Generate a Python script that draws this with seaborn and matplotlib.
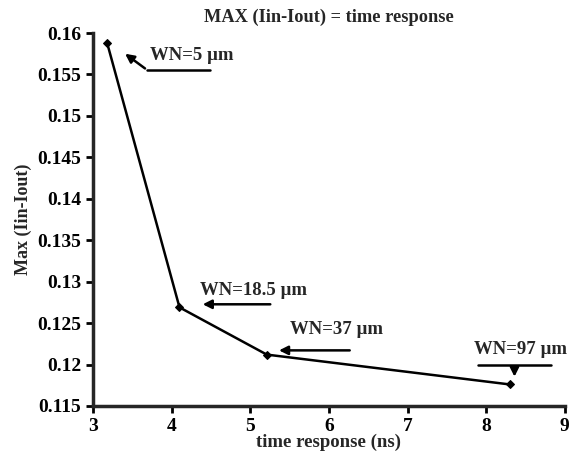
import pandas as pd
import seaborn as sns
import matplotlib.pyplot as plt

# data
time_ns = [3.18, 4.10, 5.21, 8.30]
max_iin_iout = [0.1588, 0.1269, 0.1212, 0.1176]
labels = ["WN=5 µm", "WN=18.5 µm", "WN=37 µm", "WN=97 µm"]

df = pd.DataFrame({"time": time_ns, "max": max_iin_iout})

sns.set_theme(style="ticks")
plt.rcParams['font.family'] = ['Liberation Serif', 'DejaVu Serif']
plt.rcParams['font.weight'] = 'bold'

fig = plt.figure(figsize=(5.74, 4.59), dpi=100)
ax = fig.add_axes([0.162, 0.1155, 0.822, 0.8125])

sns.lineplot(data=df, x="time", y="max", color="black", linewidth=1.8,
             marker="D", markersize=4, markeredgecolor="black", ax=ax)

ax.set_xlim(3, 9)
ax.set_ylim(0.115, 0.16)
ax.set_xticks(range(3, 10))
ax.set_yticks([0.115, 0.12, 0.125, 0.13, 0.135, 0.14, 0.145, 0.15, 0.155, 0.16])
ax.set_yticklabels(["0.115", "0.12", "0.125", "0.13", "0.135", "0.14", "0.145", "0.15", "0.155", "0.16"])
ax.tick_params(width=2, length=5, labelsize=14, colors="black")
for lab in ax.get_xticklabels() + ax.get_yticklabels():
    lab.set_fontweight("bold")
for s in ["left", "bottom"]:
    ax.spines[s].set_linewidth(2.5)
sns.despine(ax=ax)

ax.set_xlabel("time response (ns)", fontsize=13.5, fontweight="bold", labelpad=-1)
ax.set_ylabel("Max (Iin-Iout)", fontsize=13, fontweight="bold", labelpad=4)
fig.text(0.573, 0.963, "MAX (Iin-Iout) = time response", ha="center", va="center",
         fontsize=13.2, fontweight="bold")

arrow = dict(arrowstyle="-|>", color="black", lw=1.8, mutation_scale=13)
fs = 13.5

# WN=5
ax.text(3.72, 0.1573, labels[0], fontsize=fs, fontweight="bold", va="center")
ax.plot([3.69, 4.49], [0.15553, 0.15553], color="black", lw=1.8)
ax.annotate("", xy=(3.38, 0.1577), xytext=(3.69, 0.15553), arrowprops=arrow)

# WN=18.5
ax.text(4.36, 0.1289, labels[1], fontsize=fs, fontweight="bold", va="center")
ax.annotate("", xy=(4.36, 0.12727), xytext=(5.29, 0.12727), arrowprops=arrow)

# WN=37
ax.text(5.50, 0.1242, labels[2], fontsize=fs, fontweight="bold", va="center")
ax.annotate("", xy=(5.33, 0.12171), xytext=(6.30, 0.12171), arrowprops=arrow)

# WN=97
ax.text(7.85, 0.1218, labels[3], fontsize=fs, fontweight="bold", va="center")
ax.plot([7.90, 8.83], [0.1199, 0.1199], color="black", lw=1.8)
ax.annotate("", xy=(8.36, 0.1182), xytext=(8.36, 0.1199), arrowprops=arrow)

fig.savefig("out.png", dpi=100)
